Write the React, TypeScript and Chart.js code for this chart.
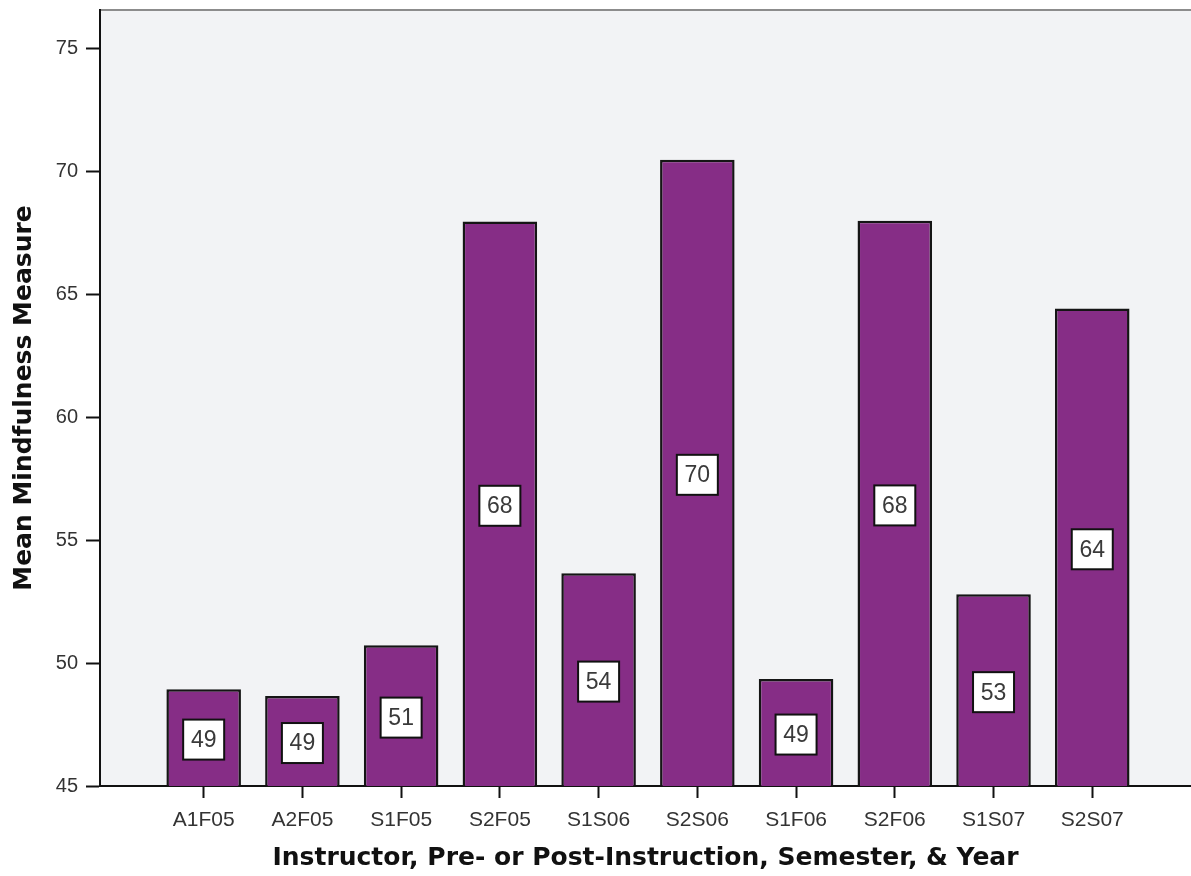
import React, { useEffect, useRef } from "react";
import { Chart, registerables } from "chart.js";

Chart.register(...registerables);

const categories = ["A1F05", "A2F05", "S1F05", "S2F05", "S1S06", "S2S06", "S1F06", "S2F06", "S1S07", "S2S07"];
const meanValues = [48.94, 48.66, 50.73, 67.97, 53.66, 70.49, 49.35, 68.0, 52.8, 64.43];
const yTickValues = [45, 50, 55, 60, 65, 70, 75];

const Y_MIN = 45;
const Y_MAX = 76.58;

const backgroundPlugin = {
  id: "plotBackground",
  beforeDraw(chart: any) {
    const { ctx, chartArea } = chart;
    if (!chartArea) return;
    ctx.save();
    ctx.fillStyle = "#f2f3f5";
    ctx.fillRect(chartArea.left, chartArea.top, chartArea.right - chartArea.left, chartArea.bottom - chartArea.top);
    ctx.strokeStyle = "#8c8c8c";
    ctx.lineWidth = 2;
    ctx.beginPath();
    ctx.moveTo(chartArea.left, chartArea.top);
    ctx.lineTo(chartArea.right, chartArea.top);
    ctx.stroke();
    ctx.restore();
  },
};

const valueLabelPlugin = {
  id: "valueLabels",
  afterDatasetsDraw(chart: any) {
    const { ctx } = chart;
    const xs = chart.scales.x;
    const ys = chart.scales.y;
    ctx.save();
    meanValues.forEach((v, i) => {
      const cx = xs.getPixelForValue(i);
      const cy = ys.getPixelForValue((v + Y_MIN) / 2) + 2;
      const w = 41;
      const h = 40;
      ctx.fillStyle = "#ffffff";
      ctx.fillRect(cx - w / 2, cy - h / 2, w, h);
      ctx.strokeStyle = "#111111";
      ctx.lineWidth = 2;
      ctx.strokeRect(cx - w / 2, cy - h / 2, w, h);
      ctx.fillStyle = "#3a3a3a";
      ctx.font = '23px "Liberation Sans", Arial, sans-serif';
      ctx.textAlign = "center";
      ctx.textBaseline = "middle";
      ctx.fillText(String(Math.round(v)), cx, cy + 1);
    });
    ctx.restore();
  },
};

export default function App() {
  const canvasRef = useRef<HTMLCanvasElement | null>(null);

  useEffect(() => {
    document.body.style.margin = "0";
    const canvas = canvasRef.current;
    if (!canvas) return;
    const chart = new Chart(canvas, {
      type: "bar",
      data: {
        datasets: [
          {
            data: meanValues.map((v, i) => ({ x: i, y: v })),
            backgroundColor: "#862d86",
            borderColor: "#151515",
            borderWidth: 2.5,
            borderSkipped: "bottom",
            categoryPercentage: 1,
            barPercentage: 0.755,
          },
        ],
      },
      options: {
        animation: false,
        responsive: true,
        maintainAspectRatio: false,
        layout: { padding: { top: 10, right: 0, left: 0, bottom: 0 } },
        plugins: {
          legend: { display: false },
          tooltip: { enabled: false },
        },
        scales: {
          x: {
            type: "linear",
            offset: false,
            min: -1.05,
            max: 10,
            grid: {
              offset: false,
              drawOnChartArea: false,
              drawTicks: true,
              tickLength: 12,
              tickColor: "#111111",
              tickWidth: 2,
            },
            border: { color: "#111111", width: 2 },
            afterBuildTicks: (scale: any) => {
              scale.ticks = categories.map((_, i) => ({ value: i }));
            },
            afterFit: (scale: any) => {
              scale.height = 90;
              scale.paddingLeft = 0;
              scale.paddingRight = 0;
            },
            ticks: {
              autoSkip: false,
              maxRotation: 0,
              padding: 10,
              color: "#333333",
              font: { family: '"Liberation Sans", Arial, sans-serif', size: 21 },
              callback: (v: any) => categories[Math.round(Number(v))] ?? "",
            },
            title: {
              display: true,
              text: "Instructor, Pre- or Post-Instruction, Semester, & Year",
              color: "#111111",
              font: { family: '"DejaVu Sans", Verdana, sans-serif', size: 25, weight: "bold" },
              padding: { top: 0, bottom: 3 },
            },
          },
          y: {
            min: Y_MIN,
            max: Y_MAX,
            grid: {
              drawOnChartArea: false,
              drawTicks: true,
              tickLength: 14,
              tickColor: "#111111",
              tickWidth: 2,
            },
            border: { color: "#111111", width: 2 },
            afterBuildTicks: (scale: any) => {
              scale.ticks = yTickValues.map((v) => ({ value: v }));
            },
            afterFit: (scale: any) => {
              scale.width = 100;
              scale.paddingTop = 0;
              scale.paddingBottom = 0;
            },
            ticks: {
              padding: 8,
              color: "#333333",
              font: { family: '"Liberation Sans", Arial, sans-serif', size: 20 },
            },
            title: {
              display: true,
              text: "Mean Mindfulness Measure",
              color: "#111111",
              font: { family: '"DejaVu Sans", Verdana, sans-serif', size: 25, weight: "bold" },
              padding: { top: 9, bottom: 0 },
            },
          },
        },
      },
      plugins: [backgroundPlugin, valueLabelPlugin],
    } as any);
    return () => chart.destroy();
  }, []);

  return (
    <div style={{ position: "absolute", left: 0, top: 0, width: 1191, height: 876 }}>
      <canvas ref={canvasRef} />
    </div>
  );
}
